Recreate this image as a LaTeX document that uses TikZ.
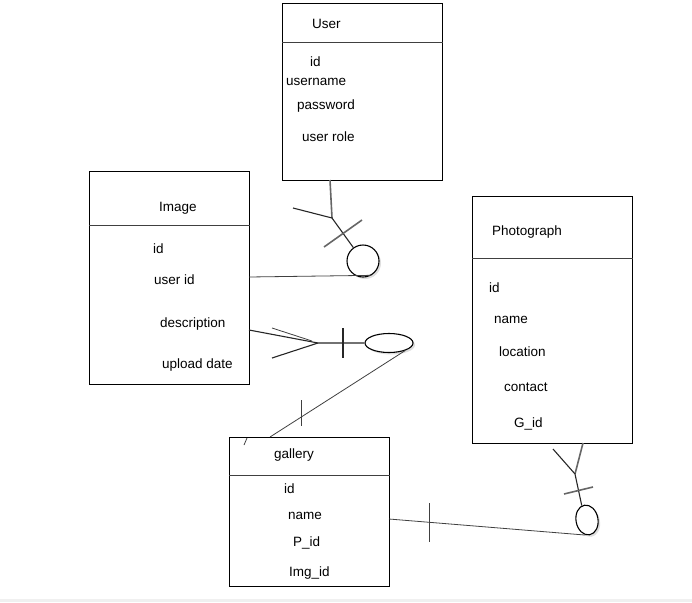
\documentclass[tikz,border=0pt]{standalone}
\usepackage{fontspec}
\setmainfont{Liberation Sans}
\usetikzlibrary{shapes.geometric, shadows}

\begin{document}
\begin{tikzpicture}[x=1pt, y=-1pt,
    font=\fontsize{13.5}{16}\selectfont,
    entbox/.style={draw, line width=0.9pt, anchor=north west, minimum width=160, inner sep=0},
    divline/.style={line width=0.9pt, black!75},
    attr/.style={anchor=base west, inner sep=0},
    rel/.style={line width=1.1pt, black!85},
    relg/.style={line width=1.6pt, black!60},
    thin rel/.style={line width=0.8pt, black!75},
    endbox/.style={draw, line width=1.1pt, fill=white, inner sep=0,
        drop shadow={shadow xshift=2pt, shadow yshift=-2pt, opacity=0.25}}]
\useasboundingbox (0,0) rectangle (692,602);
\fill[black!6] (0,599) rectangle (692,602);

\foreach \n/\x/\y/\h/\d in 
{   nUser/282/3/177/39,
    nImage/89/171/213/54,
    nPhoto/472/196/247/62,
    nGallery/229/437/149/38
}
{
    \node[entbox, minimum height=\h] (\n) at (\x,\y) {};
    \draw[divline] ([yshift=-\d pt]\n.north west) -- ([yshift=-\d pt]\n.north east);
};

\foreach \n/\x/\y/\t in 
{   tUser/312/29/User,
    tUserId/310/66/id,
    tUserName/286/85/username,
    tUserPass/297/109/password,
    tUserRole/302/141/user role,
    tImage/159/211/Image,
    tImageId/153/253/id,
    tImageUid/154/284/user id,
    tImageDesc/160/327/description,
    tImageDate/162/368/upload date,
    tPhoto/492/235/Photograph,
    tPhotoId/489/292/id,
    tPhotoName/494/323/name,
    tPhotoLoc/499/356/location,
    tPhotoCon/504/391/contact,
    tPhotoGid/514/427/G\_id,
    tGallery/274/458/gallery,
    tGalleryId/284/493/id,
    tGalleryName/288/519/name,
    tGalleryPid/293/546/P\_id,
    tGalleryImg/289/576/Img\_id
}
{
    \node[attr] (\n) at (\x,\y) {\t};
};

% User -- Image
\node[endbox, circle, minimum size=32] (eUserImg) at (363,261) {};
\coordinate (cUIfoot) at (332,218);
\coordinate (cUItop) at (330,180);
\coordinate (cUIleft) at (293,208);
\coordinate (cUIbarA) at (324,247);
\coordinate (cUIbarB) at (362,220);
\coordinate (cUIimg) at (249,277);
\draw[relg] (cUItop) -- (cUIfoot);
\draw[rel] (cUIleft) -- (cUIfoot) -- (eUserImg);
\draw[relg] (cUIbarA) -- (cUIbarB);
\draw[thin rel] (cUIimg) -- (eUserImg.300);

% Image -- gallery
\node[endbox, ellipse, minimum width=48, minimum height=19] (eImgGal) at (389,343) {};
\coordinate (cIGfoot) at (318,343);
\coordinate (cIGimg) at (249,330);
\coordinate (cIGupA) at (272,328);
\coordinate (cIGupB) at (312,341);
\coordinate (cIGlow) at (272,358);
\coordinate (cIGbarA) at (343,328);
\coordinate (cIGbarB) at (343,358);
\coordinate (cIGgal) at (270,437);
\coordinate (cIGtickA) at (301,400);
\coordinate (cIGtickB) at (301,426);
\coordinate (cIGmarkA) at (244,445);
\coordinate (cIGmarkB) at (247,438);
\draw[rel] (cIGimg) -- (cIGfoot) -- (eImgGal);
\draw[thin rel] (cIGupA) -- (cIGupB);
\draw[rel] (cIGlow) -- (cIGfoot);
\draw[rel] (cIGbarA) -- (cIGbarB);
\draw[thin rel] (eImgGal.335) -- (cIGgal);
\draw[thin rel] (cIGtickA) -- (cIGtickB);
\draw[thin rel] (cIGmarkA) -- (cIGmarkB);

% gallery -- Photograph
\node[endbox, ellipse, minimum width=22, minimum height=30, rotate=10] (eGalPho) at (587,520) {};
\coordinate (cGPfoot) at (575,474);
\coordinate (cGPtop) at (583,443);
\coordinate (cGPleft) at (553,449);
\coordinate (cGPbarA) at (564,494);
\coordinate (cGPbarB) at (593,487);
\coordinate (cGPgal) at (389,519);
\coordinate (cGPtickA) at (429,503);
\coordinate (cGPtickB) at (429,542);
\draw[relg] (cGPtop) -- (cGPfoot);
\draw[rel] (cGPleft) -- (cGPfoot) -- (eGalPho.100);
\draw[relg] (cGPbarA) -- (cGPbarB);
\draw[thin rel] (cGPgal) -- (eGalPho.255);
\draw[thin rel] (cGPtickA) -- (cGPtickB);

\end{tikzpicture}
\end{document}
